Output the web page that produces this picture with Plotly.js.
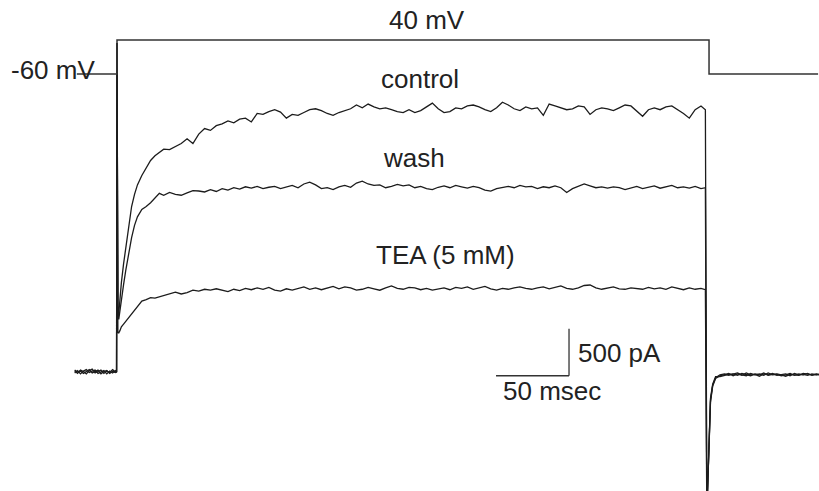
<!DOCTYPE html>
<html>
<head>
<meta charset="utf-8">
<script src="https://cdn.plot.ly/plotly-3.0.1.min.js"></script>
<style>html,body{margin:0;padding:0;background:#fff;}#chart{width:819px;height:491px;}</style>
</head>
<body>
<div id="chart"></div>
<script>
// Time (ms) relative to the onset of the depolarising step
const timeMs = [
  -29,-27,-25,-23,-21,-19,-17,-15,-13,-11,-9,-7,-5,-3,-1,-0.3,
  0,0.6,1.2,2,3,4.5,6,8,10,12,14,17,20,23,26,29,32,
  36,40,44,48,52,56,60,64,68,72,
  76,80,84,88,92,96,100,104,108,112,
  116,120,124,128,132,136,140,144,148,152,
  156,160,164,168,172,176,180,184,188,192,
  196,200,204,208,212,216,220,224,228,232,
  236,240,244,248,252,256,260,264,268,272,
  276,280,284,288,292,296,300,304,308,312,
  316,320,324,328,332,336,340,344,348,352,
  356,360,364,368,372,376,380,384,388,392,
  396,400,
  403,
  404,405.5,406.5,408,410,413,
  416,419,422,425,428,431,434,437,440,443,446,449,452,455,458,461,464,467,470,473,476,479,481
];

// Membrane current (pA)
const controlPA = [
  10,-15,20,5,-20,15,30,-10,5,20,-15,10,-5,25,0,5,
  3500,700,620,780,950,1150,1330,1560,1760,1890,1990,2090,2170,2250,2300,2340,2370,
  2365,2400,2430,2480,2430,2530,2590,2570,2620,2640,
  2670,2650,2690,2700,2660,2750,2740,2770,2790,2765,
  2700,2740,2730,2760,2790,2800,2780,2750,2730,2760,
  2780,2800,2840,2810,2850,2820,2800,2810,2790,2770,
  2760,2790,2760,2780,2820,2860,2800,2760,2770,2810,
  2800,2830,2840,2820,2790,2770,2810,2870,2840,2800,
  2780,2820,2800,2810,2730,2850,2830,2810,2790,2800,
  2830,2820,2740,2790,2810,2800,2780,2810,2840,2830,
  2770,2720,2790,2810,2790,2820,2830,2790,2750,2700,
  2790,2830,
  2790,
  -1500,-620,-320,-150,-70,-40,
  -30,-15,-40,-20,-35,-10,-30,-25,-45,-20,-30,-15,-35,-25,-20,-40,-15,-30,-25,-35,-20,-30,-25
];

const washPA = [
  -10,15,-20,10,25,-5,10,20,-15,0,15,-20,10,-10,15,0,
  3500,650,560,650,780,930,1080,1280,1430,1560,1650,1730,1760,1800,1850,1900,1880,
  1910,1890,1880,1905,1930,1925,1915,1940,1920,1950,
  1935,1960,1945,1970,1955,1975,1950,1965,1975,1950,
  1965,1985,1960,2000,2020,1990,1950,1960,1940,1970,
  1985,1965,2010,2030,2000,1985,1990,1960,1975,1995,
  1980,1990,1960,1975,1950,1940,1965,1980,1960,1985,
  1970,1955,1975,1960,1935,1925,1950,1965,1975,1960,
  1985,1970,1975,1950,1970,1960,1980,1960,1910,1950,
  1975,2000,1980,1960,1970,1955,1970,1960,1940,1960,
  1975,1950,1965,1980,1955,1970,1985,1960,1970,1955,
  1975,1950,
  1960,
  -1500,-600,-300,-140,-60,-30,
  -20,-35,-25,-10,-30,-40,-15,-30,-20,-35,-10,-30,-25,-40,-30,-15,-35,-20,-30,-15,-35,-25,-30
];

const teaPA = [
  20,0,10,-15,5,25,-10,5,20,-20,5,15,-15,5,-5,0,
  3500,420,415,440,480,510,540,575,615,650,695,755,770,790,785,800,815,
  835,850,830,845,870,860,880,870,885,870,
  855,880,865,890,875,895,880,900,870,860,
  885,870,890,905,880,895,875,890,910,885,
  905,895,870,880,900,885,870,895,915,890,
  880,900,895,875,890,870,880,895,875,900,
  890,905,880,895,910,885,870,890,880,895,
  905,890,880,895,905,885,900,915,890,880,
  895,920,925,895,880,890,905,885,880,895,
  890,880,900,885,895,880,905,890,875,895,
  880,890,
  875,
  -1500,-580,-280,-130,-50,-50,
  -35,-25,-20,-35,-15,-30,-40,-20,-30,-10,-35,-25,-20,-30,-45,-25,-30,-35,-15,-25,-30,-20,-25
];

// Voltage-clamp command protocol (mV)
const vTimeMs = [-27.5, 0, 0, 405.5, 405.5, 480.2];
const vCommandMV = [-60, -60, 40, 40, -60, -60];

// Labels
const traceLabels = ["control", "wash", "TEA (5 mM)"];
const voltageLabels = ["40 mV", "-60 mV"];
const scaleLabels = ["500 pA", "50 msec"];

// Scale bar (data units)
const scaleBarMs = 50;
const scaleBarPA = 500;
const scaleBarEndMs = 309.6;
const scaleBarBasePA = -40;

const ink = "#1c1c1c";
const fontFam = "Liberation Sans, Arial, sans-serif";

function trace(y, w) {
  return {x: timeMs, y: y, type: "scatter", mode: "lines",
          line: {color: ink, width: w || 1.3}, hoverinfo: "skip"};
}

const data = [
  {x: vTimeMs, y: vCommandMV, yaxis: "y2", type: "scatter", mode: "lines",
   line: {color: "#333", width: 1.5}, hoverinfo: "skip"},
  trace(teaPA), trace(washPA), trace(controlPA)
];

function ann(text, px, py, size) {
  return {text: text, xref: "paper", yref: "paper", x: px / 819, y: 1 - py / 491,
          xanchor: "center", yanchor: "middle", showarrow: false,
          font: {family: fontFam, size: size || 26, color: "#222"}};
}

const layout = {
  width: 819, height: 491,
  margin: {l: 0, r: 0, t: 0, b: 0, pad: 0},
  paper_bgcolor: "#fff", plot_bgcolor: "#fff",
  showlegend: false,
  xaxis: {range: [-80.14, 480.82], visible: false, fixedrange: true},
  yaxis: {range: [-1266, 3957], visible: false, fixedrange: true},
  yaxis2: {range: [-1286.5, 157.6], overlaying: "y", visible: false, fixedrange: true},
  shapes: [
    {type: "line", xref: "x", yref: "y", x0: scaleBarEndMs, x1: scaleBarEndMs,
     y0: scaleBarBasePA, y1: scaleBarBasePA + scaleBarPA, line: {color: "#333", width: 1.3}},
    {type: "line", xref: "x", yref: "y", x0: scaleBarEndMs - scaleBarMs, x1: scaleBarEndMs,
     y0: scaleBarBasePA, y1: scaleBarBasePA, line: {color: "#333", width: 1.3}}
  ],
  annotations: [
    ann(voltageLabels[0], 427, 20),
    ann(voltageLabels[1], 53, 70),
    ann(traceLabels[0], 420, 79),
    ann(traceLabels[1], 414, 158),
    ann(traceLabels[2], 446, 255),
    ann(scaleLabels[0], 619.5, 352.5),
    ann(scaleLabels[1], 552, 391)
  ]
};

Plotly.newPlot("chart", data, layout, {staticPlot: true, displayModeBar: false});
</script>
</body>
</html>
